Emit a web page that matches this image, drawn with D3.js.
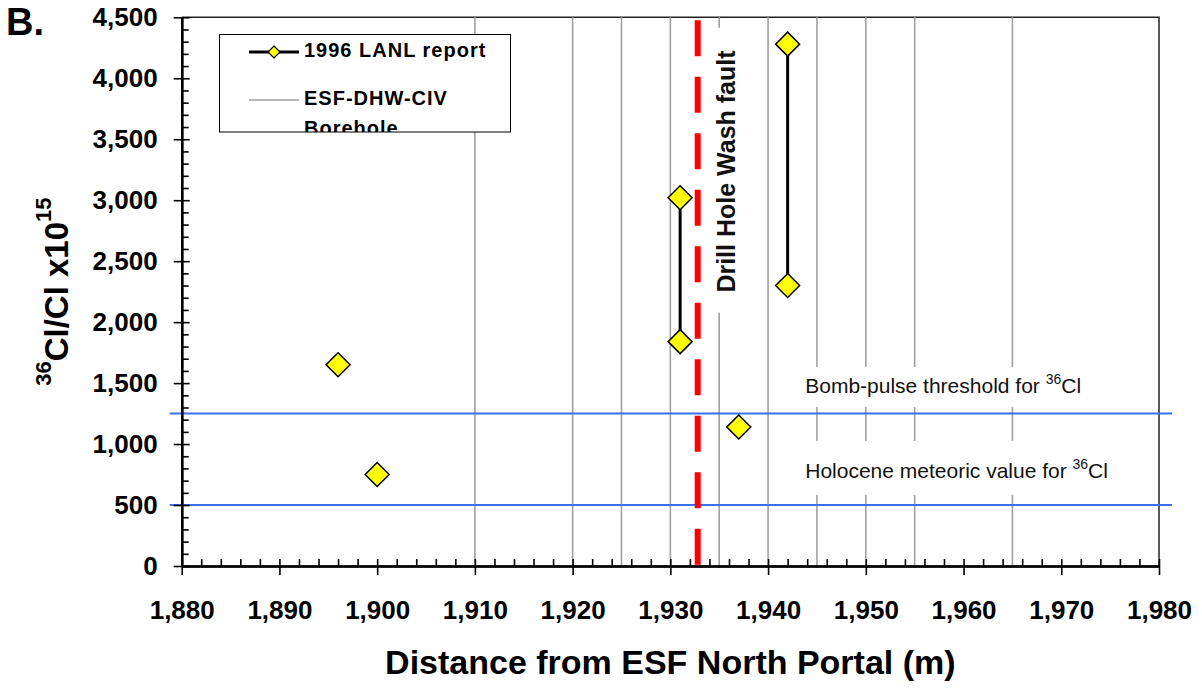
<!DOCTYPE html>
<html>
<head>
<meta charset="utf-8">
<script src="https://cdn.jsdelivr.net/npm/d3@7"></script>
<style>
  body { margin: 0; background: #fff; }
  svg { display: block; font-family: "Liberation Sans", Arial, sans-serif; }
</style>
</head>
<body>
<svg id="chart" width="1202" height="688"></svg>
<script>
// samples from the 1996 LANL report (m from portal, 36Cl/Cl x1e15)
const distance = [1896, 1900, 1931, 1931, 1937, 1942, 1942];
const ratio = [1650, 750, 3020, 1840, 1140, 4280, 2300];
const sampleGroup = [1, 2, 3, 3, 4, 5, 5];

// ESF-DHW-CIV borehole positions
const boreholes = [1910, 1920, 1925, 1930, 1935, 1940, 1945, 1950, 1955, 1965];
const faultAt = 1932.8;

const bombPulse = 1250;
const holocene = 500;

const xTicks = d3.range(1880, 1981, 10);
const yTicks = d3.range(0, 4501, 500);

const svg = d3.select('#chart');
const x = d3.scaleLinear().domain([1880, 1980]).range([181.7, 1159]);
const y = d3.scaleLinear().domain([0, 4500]).range([566, 17.3]);
const fmt = d3.format(',');

// frame (top + right)
svg.append('path')
  .attr('d', `M${x(1880)},${y(4500)}H${x(1980)}V${y(0)}`)
  .attr('fill', 'none')
  .attr('stroke', '#222')
  .attr('stroke-width', 1.5);

// borehole lines
svg.append('g')
  .selectAll('line')
  .data(boreholes)
  .join('line')
    .attr('x1', d => x(d)).attr('x2', d => x(d))
    .attr('y1', y(4500)).attr('y2', y(0))
    .attr('stroke', '#a0a0a0')
    .attr('stroke-width', 1.6);

// white-backed annotation labels
const notes = svg.append('g');

function boxedLabel(g, pad) {
  const b = g.select('text').node().getBBox();
  g.insert('rect', 'text')
    .attr('x', b.x - pad[3]).attr('y', b.y - pad[0])
    .attr('width', b.width + pad[1] + pad[3])
    .attr('height', b.height + pad[0] + pad[2])
    .attr('fill', '#fff');
}

const bombG = notes.append('g').attr('transform', `translate(${x(1943.8)},${y(1419)})`);
const bombT = bombG.append('text').attr('font-size', 21).attr('fill', '#111');
bombT.append('tspan').text('Bomb-pulse threshold for ');
bombT.append('tspan').attr('font-size', 14).attr('dy', -9).text('36');
bombT.append('tspan').attr('dy', 9).text('Cl');
boxedLabel(bombG, [4, 20, 10, 16]);

const holoG = notes.append('g').attr('transform', `translate(${x(1943.8)},${y(722)})`);
const holoT = holoG.append('text').attr('font-size', 21).attr('fill', '#111');
holoT.append('tspan').text('Holocene meteoric value for ');
holoT.append('tspan').attr('font-size', 14).attr('dy', -9).text('36');
holoT.append('tspan').attr('dy', 9).text('Cl');
boxedLabel(holoG, [15, 20, 13, 16]);

const faultG = notes.append('g').attr('transform', `translate(${x(1936.6)},${y(3235)}) rotate(-90)`);
faultG.append('text')
  .attr('text-anchor', 'middle')
  .attr('font-size', 25)
  .attr('font-weight', 'bold')
  .attr('fill', '#111')
  .text('Drill Hole Wash fault');
boxedLabel(faultG, [3, 22, 1, 20]);

// reference values
svg.append('g')
  .selectAll('line')
  .data([bombPulse, holocene])
  .join('line')
    .attr('x1', x(1880) - 12).attr('x2', x(1980) + 13)
    .attr('y1', d => y(d)).attr('y2', d => y(d))
    .attr('stroke', '#3a6ff0')
    .attr('stroke-width', 2);

// fault trace
svg.append('line')
  .attr('x1', x(faultAt)).attr('x2', x(faultAt))
  .attr('y1', y(4475)).attr('y2', y(0))
  .attr('stroke', '#ff0000')
  .attr('stroke-width', 6)
  .attr('stroke-dasharray', '36,20.5');

// sample data
const samples = distance.map((d, i) => ({ x: d, y: ratio[i], g: sampleGroup[i] }));
const line = d3.line().x(d => x(d.x)).y(d => y(d.y));

svg.append('g')
  .selectAll('path')
  .data(d3.groups(samples, d => d.g).filter(g => g[1].length > 1))
  .join('path')
    .attr('d', d => line(d[1]))
    .attr('fill', 'none')
    .attr('stroke', '#000')
    .attr('stroke-width', 3);

const diamond = r => `M0,${-r}L${r},0L0,${r}L${-r},0Z`;

svg.append('g')
  .selectAll('path')
  .data(samples)
  .join('path')
    .attr('transform', d => `translate(${x(d.x)},${y(d.y)})`)
    .attr('d', diamond(12))
    .attr('fill', '#ffff00')
    .attr('stroke', '#000')
    .attr('stroke-width', 1.5);

// axes
const xMinor = d3.range(1880, 1981, 2).filter(v => v % 10 !== 0);
const yMinor = d3.range(0, 4501, 100).filter(v => v % 500 !== 0);

function styleAxis(g) {
  g.selectAll('text')
    .attr('font-family', '"Liberation Sans", Arial, sans-serif')
    .attr('font-size', 26)
    .attr('font-weight', 'bold')
    .attr('fill', '#000');
}

const xAxisG = svg.append('g').attr('transform', `translate(0,${y(0)})`);
xAxisG.append('g')
  .call(d3.axisBottom(x).tickValues(xMinor).tickSize(-7).tickSizeOuter(0).tickFormat(''));
xAxisG.append('g')
  .call(d3.axisBottom(x).tickValues(xTicks).tickSize(-7).tickSizeOuter(0).tickFormat(''));
xAxisG.append('g')
  .call(d3.axisBottom(x).tickValues(xTicks).tickSize(9).tickSizeOuter(0).tickPadding(26).tickFormat(fmt))
  .call(styleAxis);
xAxisG.selectAll('line').attr('stroke', '#000').attr('stroke-width', 1.6);
xAxisG.selectAll('.domain').attr('stroke', '#000').attr('stroke-width', 2.2);

const yAxisG = svg.append('g').attr('transform', `translate(${x(1880)},0)`);
yAxisG.append('g')
  .call(d3.axisLeft(y).tickValues(yMinor).tickSize(-7).tickSizeOuter(0).tickFormat(''));
yAxisG.append('g')
  .call(d3.axisLeft(y).tickValues(yTicks).tickSize(-8).tickSizeOuter(0).tickFormat(''));
yAxisG.append('g')
  .call(d3.axisLeft(y).tickValues(yTicks).tickSize(8).tickSizeOuter(0).tickPadding(16).tickFormat(fmt))
  .call(styleAxis);
yAxisG.selectAll('line').attr('stroke', '#000').attr('stroke-width', 1.6);
yAxisG.selectAll('.domain').attr('stroke', '#000').attr('stroke-width', 2.2);

// titles
svg.append('text')
  .attr('x', (x(1880) + x(1980)) / 2)
  .attr('y', 674)
  .attr('text-anchor', 'middle')
  .attr('font-size', 34)
  .attr('font-weight', 'bold')
  .text('Distance from ESF North Portal (m)');

const yTitle = svg.append('text')
  .attr('transform', `translate(68,${(y(0) + y(4500)) / 2}) rotate(-90)`)
  .attr('text-anchor', 'middle')
  .attr('font-size', 33)
  .attr('font-weight', 'bold');
yTitle.append('tspan').attr('font-size', 22).attr('dy', -17).text('36');
yTitle.append('tspan').attr('dy', 17).text('Cl/Cl x10');
yTitle.append('tspan').attr('font-size', 22).attr('dy', -17).text('15');

svg.append('text')
  .attr('x', 6).attr('y', 35)
  .attr('font-size', 38)
  .attr('font-weight', 'bold')
  .text('B.');

// legend
const legend = svg.append('g');
legend.append('clipPath').attr('id', 'legclip')
  .append('rect').attr('x', 219.5).attr('y', 34.5).attr('width', 291).attr('height', 97.5);
legend.append('rect')
  .attr('x', 219.5).attr('y', 34.5).attr('width', 291).attr('height', 97.5)
  .attr('fill', '#fff').attr('stroke', '#000').attr('stroke-width', 1);
legend.append('line')
  .attr('x1', 249).attr('x2', 299).attr('y1', 52).attr('y2', 52)
  .attr('stroke', '#000').attr('stroke-width', 3);
legend.append('path')
  .attr('transform', 'translate(274,52)')
  .attr('d', diamond(6))
  .attr('fill', '#ffff00').attr('stroke', '#000').attr('stroke-width', 1.2);
legend.append('line')
  .attr('x1', 249).attr('x2', 299).attr('y1', 100).attr('y2', 100)
  .attr('stroke', '#a0a0a0').attr('stroke-width', 1.6);
const legText = legend.append('g').attr('clip-path', 'url(#legclip)')
  .attr('font-size', 20).attr('font-weight', 'bold').attr('letter-spacing', 1);
legText.append('text').attr('x', 304).attr('y', 57).text('1996 LANL report');
legText.append('text').attr('x', 304).attr('y', 105).text('ESF-DHW-CIV');
legText.append('text').attr('x', 304).attr('y', 135).text('Borehole');
</script>
</body>
</html>
